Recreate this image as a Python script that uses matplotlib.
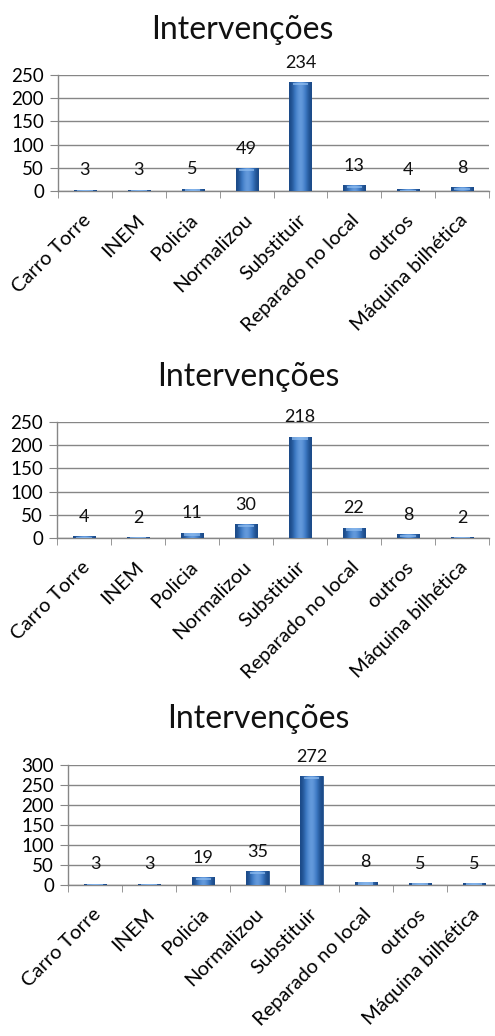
import matplotlib
matplotlib.use("Agg")
import matplotlib.pyplot as plt
import numpy as np
from matplotlib.colors import LinearSegmentedColormap

plt.rcParams['font.family'] = ['Lato', 'DejaVu Sans']

categorias = ["Carro Torre", "INEM", "Policia", "Normalizou", "Substituir",
              "Reparado no local", "outros", "Máquina bilhética"]

valores_1 = [3, 3, 5, 49, 234, 13, 4, 8]
valores_2 = [4, 2, 11, 30, 218, 22, 8, 2]
valores_3 = [3, 3, 19, 35, 272, 8, 5, 5]

titulo = "Intervenções"

W, H = 495, 1036
fig = plt.figure(figsize=(W / 100, H / 100), dpi=100)

# horizontal shading for the bars: dark edges, lighter middle
grad = np.array([[0.00, 0.35, 0.75, 1.00, 0.75, 0.35, 0.00]])
cmap_barra = LinearSegmentedColormap.from_list("barra", ["#1b4a88", "#3c78c2", "#6a9fe0"])


def grafico(px_left, px_top, px_right, px_bottom, valores, ymax, titulo_y, titulo_x):
    ax = fig.add_axes([px_left / W, 1 - px_bottom / H,
                       (px_right - px_left) / W, (px_bottom - px_top) / H])
    x = np.arange(len(categorias))
    barras = ax.bar(x, valores, width=0.41, color="#3a72bb", edgecolor="#27558f",
                    linewidth=0.6, zorder=3)
    for b in barras:
        x0, y0 = b.get_x(), b.get_y()
        w, h = b.get_width(), b.get_height()
        im = ax.imshow(grad, cmap=cmap_barra, aspect="auto", interpolation="bicubic",
                       extent=[x0, x0 + w, y0, y0 + h], zorder=3)
        im.set_clip_path(b)
        # lighter cap on top of each bar
        cap = min(h, ymax * 0.025)
        ax.fill_between([x0 + w * 0.15, x0 + w * 0.85], y0 + h - cap, y0 + h - cap * 0.2,
                        color="#8fbdf0", alpha=0.7, zorder=4, linewidth=0)

    for xi, v in zip(x, valores):
        ax.annotate(str(v), xy=(xi, v), xytext=(0, 14), textcoords="offset points",
                    ha="center", va="center", fontsize=13, color="#111111", zorder=5)

    ax.set_xlim(-0.5, len(categorias) - 0.5)
    ax.set_ylim(0, ymax)
    ax.set_yticks(np.arange(0, ymax + 1, 50))
    ax.yaxis.grid(True, color="#868686", linewidth=1.0, zorder=0)
    ax.set_axisbelow(True)

    ax.set_xticks(x + 0.05)
    ax.set_xticklabels(categorias, rotation=45, ha="right", va="center",
                       rotation_mode="anchor", fontsize=14.5)
    ax.set_xticks(np.arange(-0.5, len(categorias)), minor=True)
    ax.tick_params(axis="x", which="major", length=0, pad=19)
    ax.tick_params(axis="x", which="minor", length=5, color="#868686", direction="out")
    ax.tick_params(axis="y", length=6, color="#868686", labelsize=13.5, pad=4)

    for s in ["top", "right"]:
        ax.spines[s].set_visible(False)
    for s in ["left", "bottom"]:
        ax.spines[s].set_color("#868686")
        ax.spines[s].set_linewidth(1.0)

    fig.text(titulo_x / W, 1 - titulo_y / H, titulo, ha="center", va="center",
             fontsize=23, color="#111111")
    return ax


grafico(58, 75, 489, 191, valores_1, 250, 30, 242)
grafico(57, 422, 489, 538, valores_2, 250, 377, 248)
grafico(68, 765, 501, 885, valores_3, 300, 719, 258)

fig.savefig("out.png", dpi=100, facecolor="white")
